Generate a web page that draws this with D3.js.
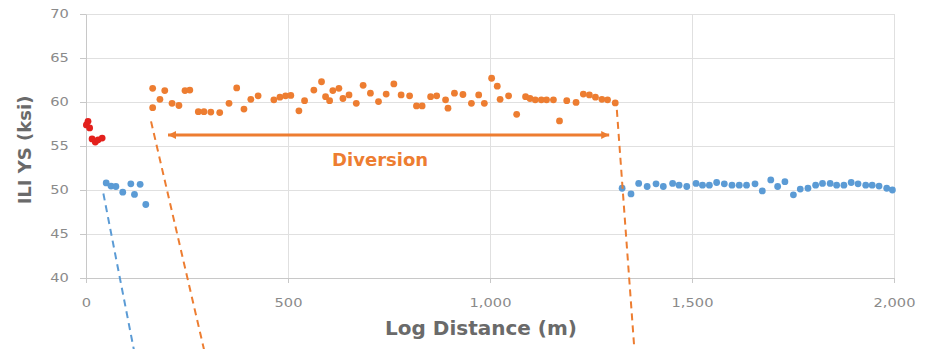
<!DOCTYPE html>
<html>
<head>
<meta charset="utf-8">
<script src="https://cdn.jsdelivr.net/npm/d3@7"></script>
<style>
body { margin: 0; background: #fff; }
svg { display: block; }
</style>
</head>
<body>
<div id="chart"></div>
<script>
// values: [log distance (m), ILI YS (ksi)]
var redPoints = [[1, 57.4], [5, 57.8], [9, 57.05], [15, 55.8], [23, 55.45], [30, 55.7], [40, 55.9]];

var bluePointsA = [[50, 50.8], [62, 50.45], [74, 50.4], [91, 49.75], [111, 50.7], [120, 49.5], [134, 50.65], [148, 48.35]];

var orangePoints = [
    [165, 61.55], [165, 59.35], [183, 60.3], [195, 61.3], [213, 59.85], [230, 59.6],
    [245, 61.3], [257, 61.35], [278, 58.9], [292, 58.9], [309, 58.85], [331, 58.8],
    [354, 59.85], [373, 61.6], [391, 59.2], [408, 60.3], [426, 60.7], [465, 60.25],
    [480, 60.55], [494, 60.7], [507, 60.75], [527, 59.0], [541, 60.15], [564, 61.35],
    [583, 62.3], [593, 60.6], [603, 60.15], [611, 61.3], [626, 61.55], [636, 60.4],
    [651, 60.8], [669, 59.85], [686, 61.9], [704, 61.0], [724, 60.05], [743, 60.9],
    [762, 62.05], [780, 60.8], [801, 60.7], [818, 59.55], [832, 59.55], [853, 60.6],
    [868, 60.7], [890, 60.25], [896, 59.3], [912, 61.0], [933, 60.85], [954, 59.85],
    [972, 60.8], [986, 59.85], [1004, 62.7], [1018, 61.8], [1025, 60.3], [1046, 60.7],
    [1066, 58.6], [1088, 60.6], [1099, 60.4], [1112, 60.25], [1127, 60.25], [1140, 60.25],
    [1157, 60.25], [1172, 57.85], [1190, 60.15], [1213, 59.95], [1231, 60.9], [1246, 60.8],
    [1261, 60.55], [1277, 60.3], [1291, 60.25], [1310, 59.9]
];

var bluePointsB = [
    [1327, 50.2], [1349, 49.55], [1368, 50.75], [1389, 50.4], [1411, 50.7], [1429, 50.4],
    [1452, 50.75], [1468, 50.55], [1487, 50.4], [1510, 50.75], [1526, 50.55], [1543, 50.55],
    [1561, 50.85], [1580, 50.7], [1599, 50.55], [1617, 50.55], [1635, 50.55], [1656, 50.7],
    [1674, 49.9], [1695, 51.15], [1712, 50.4], [1730, 50.95], [1751, 49.45], [1768, 50.1],
    [1787, 50.2], [1806, 50.55], [1823, 50.75], [1842, 50.75], [1858, 50.55], [1876, 50.55],
    [1894, 50.85], [1911, 50.7], [1930, 50.55], [1946, 50.55], [1963, 50.45], [1982, 50.2],
    [1996, 50.0]
];

// dashed leader lines, in data units (they run on below the axis)
var blueDrop = [[43, 49.6], [120, 31.5]];
var orangeDropLeft = [[161, 57.8], [294, 31.5]];
var orangeDropRight = [[1314, 59.1], [1358, 31.5]];

// diversion arrow and label
var arrowSpan = [[203, 56.25], [1295, 56.25]];
var diversionLabel = { text: "Diversion", at: [728, 52.7] };

var xTicks = [0, 500, 1000, 1500, 2000];
var yTicks = [40, 45, 50, 55, 60, 65, 70];

var width = 930,
    height = 349,
    margin = { top: 14, right: 36, bottom: 71, left: 86 };

var blue = "#5b9bd5",
    orange = "#ed7d31",
    red = "#e3201c",
    textGray = "#8a8a8a";

var x = d3.scaleLinear().domain([0, 2000]).range([margin.left, width - margin.right]);
var y = d3.scaleLinear().domain([40, 70]).range([height - margin.bottom, margin.top]);

var svg = d3.select("#chart").append("svg")
    .attr("width", width)
    .attr("height", height)
    .attr("viewBox", [0, 0, width, height]);

// grid
svg.append("g")
    .attr("stroke", "#e0e0e0")
    .attr("stroke-width", 1)
    .selectAll("line")
    .data(yTicks.filter(d => d > 40))
    .join("line")
    .attr("x1", x(0)).attr("x2", x(2000))
    .attr("y1", d => Math.round(y(d)) + 0.5).attr("y2", d => Math.round(y(d)) + 0.5);

svg.append("g")
    .attr("stroke", "#e0e0e0")
    .attr("stroke-width", 1)
    .selectAll("line")
    .data(xTicks.filter(d => d > 0))
    .join("line")
    .attr("x1", d => Math.round(x(d)) + 0.5).attr("x2", d => Math.round(x(d)) + 0.5)
    .attr("y1", y(40)).attr("y2", y(70));

// axes
var yAxis = svg.append("g")
    .attr("transform", `translate(${x(0)},0)`)
    .call(d3.axisLeft(y).tickValues(yTicks).tickSize(6).tickSizeOuter(0).tickPadding(8));

var xAxis = svg.append("g")
    .attr("transform", `translate(0,${y(40)})`)
    .call(d3.axisBottom(x).tickValues(xTicks).tickFormat(d3.format(",")).tickSize(5).tickSizeOuter(0).tickPadding(15));

[yAxis, xAxis].forEach(g => {
    g.select(".domain").attr("stroke", "#c8c8c8");
    g.selectAll(".tick line").attr("stroke", "#c8c8c8");
    g.selectAll(".tick text")
        .attr("fill", textGray)
        .attr("font-family", "DejaVu Sans")
        .attr("font-size", 12)
        .attr("transform", "scale(1.22,1)");
});

// points
function dots(data, fill) {
    svg.append("g")
        .attr("fill", fill)
        .selectAll("circle")
        .data(data)
        .join("circle")
        .attr("cx", d => x(d[0]))
        .attr("cy", d => y(d[1]))
        .attr("r", 3.4);
}

dots(redPoints, red);
dots(bluePointsA, blue);
dots(orangePoints, orange);
dots(bluePointsB, blue);

// dashed drops
var line = d3.line().x(d => x(d[0])).y(d => y(d[1]));

[[blueDrop, blue], [orangeDropLeft, orange], [orangeDropRight, orange]].forEach(([pts, c]) => {
    svg.append("path")
        .attr("d", line(pts))
        .attr("fill", "none")
        .attr("stroke", c)
        .attr("stroke-width", 2)
        .attr("stroke-dasharray", "7,5");
});

// arrow
svg.append("defs").append("marker")
    .attr("id", "head")
    .attr("viewBox", "0 -5 10 10")
    .attr("refX", 10)
    .attr("refY", 0)
    .attr("markerUnits", "userSpaceOnUse")
    .attr("markerWidth", 10)
    .attr("markerHeight", 8)
    .attr("orient", "auto-start-reverse")
    .append("path")
    .attr("fill", orange)
    .attr("d", "M0,-5L10,0L0,5Z");

svg.append("path")
    .attr("d", line(arrowSpan))
    .attr("stroke", orange)
    .attr("stroke-width", 3)
    .attr("marker-start", "url(#head)")
    .attr("marker-end", "url(#head)");

svg.append("text")
    .attr("x", x(diversionLabel.at[0]))
    .attr("y", y(diversionLabel.at[1]))
    .attr("text-anchor", "middle")
    .attr("font-family", "DejaVu Sans")
    .attr("font-weight", "bold")
    .attr("font-size", 18)
    .attr("fill", orange)
    .text(diversionLabel.text);

// axis titles
svg.append("text")
    .attr("x", 481)
    .attr("y", 335)
    .attr("text-anchor", "middle")
    .attr("font-family", "DejaVu Sans")
    .attr("font-weight", "bold")
    .attr("font-size", 20)
    .attr("fill", "#6a6a6a")
    .text("Log Distance (m)");

svg.append("text")
    .attr("transform", "translate(31,150) rotate(-90)")
    .attr("text-anchor", "middle")
    .attr("font-family", "DejaVu Sans")
    .attr("font-weight", "bold")
    .attr("font-size", 18)
    .attr("fill", "#6a6a6a")
    .text("ILI YS (ksi)");
</script>
</body>
</html>
